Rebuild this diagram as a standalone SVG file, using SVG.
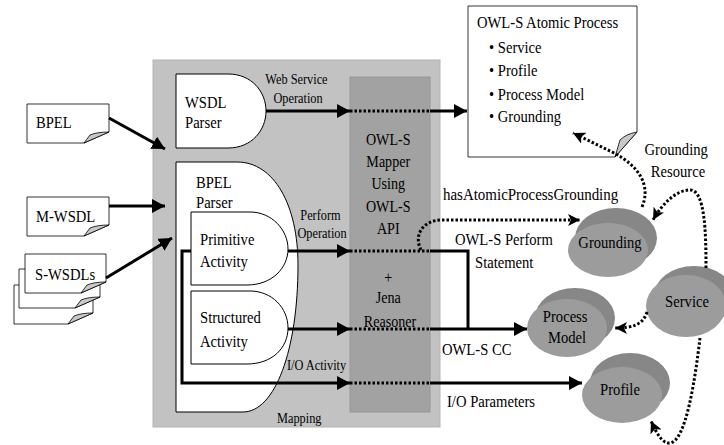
<svg xmlns="http://www.w3.org/2000/svg" width="724" height="445" viewBox="0 0 724 445" font-family="'Liberation Serif', 'Times New Roman', Times, 'DejaVu Serif', serif">
  <style>
    text { font-family: 'Liberation Serif', 'Times New Roman', Times, 'DejaVu Serif', serif; fill: #000; }
    .t17 { font-size: 17px; }
    .t16 { font-size: 16px; }
    .t14 { font-size: 14px; }
    .mid { text-anchor: middle; }
    .shape { fill: #fff; stroke: #000; stroke-width: 1; }
    .doc { fill: #fff; stroke: #000; stroke-width: 0.8; }
    .fold { fill: #c8c8c8; stroke: #000; stroke-width: 0.8; }
    .solid { fill: none; stroke: #000; stroke-width: 3; }
    .dots { fill: none; stroke: #000; stroke-width: 3; stroke-dasharray: 2.5 2; }
    .back { fill: #878787; }
    .front { fill: #9c9c9c; }
  </style>
  <defs>
    <marker id="ah" markerUnits="userSpaceOnUse" markerWidth="14" markerHeight="14" refX="13" refY="7" orient="auto">
      <path d="M0,0 L13,7 L0,14 Z" fill="#000"/>
    </marker>
    <marker id="ahs" markerUnits="userSpaceOnUse" markerWidth="13" markerHeight="12" refX="12" refY="6" orient="auto">
      <path d="M0,0 L12,6 L0,12 L3,6 Z" fill="#000"/>
    </marker>
  </defs>

  <!-- mapping panel -->
  <g id="mapping-panel">
    <rect x="153" y="60" width="287" height="367" fill="#c2c2c2" stroke="#b4b4b4" stroke-width="1"/>
    <text class="t14" transform="translate(277,423) scale(0.88,1)">Mapping</text>
  </g>

  <!-- OWL-S mapper -->
  <g id="owls-mapper">
    <rect x="350" y="77" width="80" height="335" fill="#a2a2a2" stroke="#969696" stroke-width="1"/>
    <text class="t16 mid" transform="translate(390,0) scale(0.88,1)">
      <tspan x="0" y="145">OWL-S</tspan>
      <tspan x="0" y="167">Mapper</tspan>
      <tspan x="0" y="189">Using</tspan>
      <tspan x="0" y="212">OWL-S</tspan>
      <tspan x="0" y="234">API</tspan>
      <tspan x="0" y="283">+</tspan>
      <tspan x="0" y="303">Jena</tspan>
      <tspan x="0" y="327">Reasoner</tspan>
    </text>
  </g>

  <!-- input documents -->
  <g id="doc-bpel">
    <path class="doc" d="M27,104 H109 V132 L84,143 H27 Z"/>
    <path class="fold" d="M109,132 Q97,132 90,135 L84,143 Z"/>
    <text class="t17" transform="translate(36,128) scale(0.86,1)">BPEL</text>
  </g>
  <g id="doc-mwsdl">
    <path class="doc" d="M27,197 H109 V225 L84,236 H27 Z"/>
    <path class="fold" d="M109,225 Q97,225 90,228 L84,236 Z"/>
    <text class="t17" transform="translate(36,222) scale(0.86,1)">M-WSDL</text>
  </g>
  <g id="doc-swsdls">
    <path class="doc" d="M14,285 H93 V313 L68,324 H14 Z"/>
    <path class="fold" d="M93,313 Q81,313 74,316 L68,324 Z"/>
    <path class="doc" d="M19,269 H100 V297 L75,308 H19 Z"/>
    <path class="fold" d="M100,297 Q88,297 81,300 L75,308 Z"/>
    <path class="doc" d="M25,254 H106 V282 L81,293 H25 Z"/>
    <path class="fold" d="M106,282 Q94,282 87,285 L81,293 Z"/>
    <text class="t17" transform="translate(35,280) scale(0.86,1)">S-WSDLs</text>
  </g>

  <!-- parsers -->
  <g id="wsdl-parser">
    <path class="shape" d="M176,74 H228 C252,74 266,92 266,111 C266,130 252,148 228,148 H176 Z"/>
    <text class="t17" transform="translate(185,0) scale(0.86,1)">
      <tspan x="0" y="108">WSDL</tspan>
      <tspan x="0" y="128">Parser</tspan>
    </text>
  </g>
  <g id="bpel-parser">
    <path class="shape" d="M176,162 H237 C274,162 298,205 298,265 C298,350 275,412 243,412 H176 Z"/>
    <text class="t17" transform="translate(196,0) scale(0.86,1)">
      <tspan x="0" y="188">BPEL</tspan>
      <tspan x="0" y="208">Parser</tspan>
    </text>
  </g>
  <g id="primitive-activity">
    <path class="shape" d="M191,212 H250 C272,212 288,230 288,249 C288,268 272,285 247,285 H191 Z"/>
    <text class="t17" transform="translate(200,0) scale(0.86,1)">
      <tspan x="0" y="245">Primitive</tspan>
      <tspan x="0" y="267">Activity</tspan>
    </text>
  </g>
  <g id="structured-activity">
    <path class="shape" d="M191,291 H250 C272,291 288,308 288,328 C288,348 272,364 247,364 H191 Z"/>
    <text class="t17" transform="translate(200,0) scale(0.86,1)">
      <tspan x="0" y="323">Structured</tspan>
      <tspan x="0" y="347">Activity</tspan>
    </text>
  </g>

  <!-- atomic process note -->
  <g id="atomic-process">
    <path class="doc" d="M468,6 H637 V132 L615,157 H468 Z"/>
    <path class="fold" d="M637,132 Q626,134 620,140 L615,157 Z"/>
    <text class="t17" transform="translate(477,28) scale(0.86,1)">OWL-S Atomic Process</text>
    <text class="t17" transform="translate(489,0) scale(0.86,1)">
      <tspan x="0" y="53">• Service</tspan>
      <tspan x="0" y="76">• Profile</tspan>
      <tspan x="0" y="100">• Process Model</tspan>
      <tspan x="0" y="122">• Grounding</tspan>
    </text>
  </g>

  <!-- ontology nodes -->
  <g id="grounding">
    <ellipse class="back" cx="616" cy="238" rx="41" ry="30"/>
    <ellipse class="front" cx="608" cy="250" rx="40" ry="27"/>
    <text class="t17 mid" transform="translate(610,248) scale(0.86,1)">Grounding</text>
  </g>
  <g id="process-model">
    <ellipse class="back" cx="575" cy="318" rx="40" ry="30"/>
    <ellipse class="front" cx="567" cy="328" rx="40" ry="29"/>
    <text class="t17 mid" transform="translate(567,0) scale(0.86,1)">
      <tspan x="0" y="322">Process</tspan>
      <tspan x="0" y="343">Model</tspan>
    </text>
  </g>
  <g id="service">
    <ellipse class="back" cx="694" cy="296" rx="40" ry="30"/>
    <ellipse class="front" cx="686" cy="306" rx="40" ry="31"/>
    <text class="t17 mid" transform="translate(687,307) scale(0.86,1)">Service</text>
  </g>
  <g id="profile">
    <ellipse class="back" cx="630" cy="383" rx="40" ry="30"/>
    <ellipse class="front" cx="622" cy="395" rx="40" ry="28"/>
    <text class="t17 mid" transform="translate(620,395) scale(0.86,1)">Profile</text>
  </g>

  <!-- connectors -->
  <g id="connectors">
    <!-- documents into the mapping panel -->
    <line class="solid" x1="109" y1="118" x2="165" y2="149" marker-end="url(#ah)"/>
    <line class="solid" x1="109" y1="206" x2="165" y2="206" marker-end="url(#ah)"/>
    <line class="solid" x1="106" y1="278" x2="172" y2="238" marker-end="url(#ah)"/>

    <!-- web service operation -->
    <line class="solid" x1="266" y1="111" x2="350" y2="111" marker-end="url(#ah)"/>
    <line class="dots" x1="350" y1="111" x2="430" y2="111"/>
    <line class="solid" x1="430" y1="111" x2="467" y2="111" marker-end="url(#ah)"/>

    <!-- perform operation -->
    <line class="solid" x1="288" y1="251" x2="350" y2="251" marker-end="url(#ah)"/>
    <line class="dots" x1="350" y1="251" x2="430" y2="251"/>
    <polyline class="solid" points="430,251 468,251 468,329"/>

    <!-- structured activity -->
    <line class="solid" x1="288" y1="329" x2="350" y2="329" marker-end="url(#ah)"/>
    <line class="dots" x1="350" y1="329" x2="430" y2="329"/>
    <line class="solid" x1="430" y1="329" x2="527" y2="329" marker-end="url(#ah)"/>

    <!-- I/O activity -->
    <polyline class="solid" points="191,251 182,251 182,383 350,383" marker-end="url(#ah)"/>
    <line class="dots" x1="350" y1="383" x2="430" y2="383"/>
    <line class="solid" x1="430" y1="383" x2="582" y2="383" marker-end="url(#ah)"/>

    <!-- hasAtomicProcessGrounding -->
    <path class="dots" d="M421,250 C413,234 424,220 442,220 L580,220" marker-end="url(#ahs)"/>

    <!-- grounding to atomic process -->
    <path class="dots" d="M642,207 C651,186 640,166 612,152 L573,133" marker-end="url(#ahs)"/>
    <!-- grounding resource -->
    <path class="dots" d="M706,268 C706,232 705,190 690,190 C676,190 662,204 653,220" marker-end="url(#ahs)"/>
    <!-- service to process model -->
    <path class="dots" d="M647,312 C643,325 632,328 615,328" marker-end="url(#ahs)"/>
    <!-- service to profile -->
    <path class="dots" d="M700,338 C695,380 686,441 670,443 C662,444 656,432 651,421" marker-end="url(#ahs)"/>
  </g>

  <!-- connector labels -->
  <g id="labels">
    <text class="t14 mid" transform="translate(298,0) scale(0.88,1)">
      <tspan x="0" y="84">Web Service</tspan>
      <tspan x="0" y="103">Operation</tspan>
    </text>
    <text class="t14 mid" transform="translate(322,0) scale(0.88,1)">
      <tspan x="0" y="220">Perform</tspan>
      <tspan x="0" y="238">Operation</tspan>
    </text>
    <text class="t14" transform="translate(287,370) scale(0.88,1)">I/O Activity</text>
    <text class="t17" transform="translate(443,200) scale(0.88,1)">hasAtomicProcessGrounding</text>
    <text class="t17" transform="translate(455,245) scale(0.86,1)">OWL-S Perform</text>
    <text class="t17" transform="translate(475,268) scale(0.86,1)">Statement</text>
    <text class="t17" transform="translate(442,355) scale(0.86,1)">OWL-S CC</text>
    <text class="t17" transform="translate(447,407) scale(0.86,1)">I/O Parameters</text>
    <text class="t17 mid" transform="translate(678,0) scale(0.86,1)">
      <tspan x="0" y="155">Grounding</tspan>
      <tspan x="0" y="177">Resource</tspan>
    </text>
  </g>
</svg>
